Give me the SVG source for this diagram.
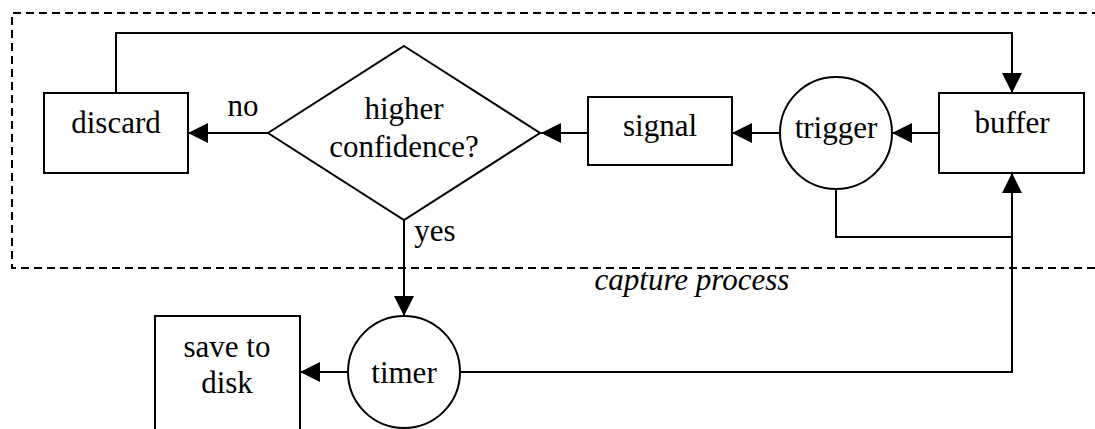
<svg xmlns="http://www.w3.org/2000/svg" width="1095" height="429" viewBox="0 0 1095 429">
<style>
.s{fill:#fff;stroke:#000;stroke-width:2}
.c{fill:none;stroke:#000;stroke-width:2}
.t{font-size:31px;fill:#000;text-anchor:middle}
.d{fill:none;stroke:#000;stroke-width:2;stroke-dasharray:8,5}
</style>
<defs>
<marker id="a" markerUnits="userSpaceOnUse" markerWidth="20" markerHeight="20" refX="20" refY="10" orient="auto">
<path d="M0,0 L20,10 L0,20 z" fill="#000"/>
</marker>
</defs>
<g font-family="Liberation Serif, DejaVu Serif, serif">
<g id="cluster">
<path class="d" d="M1100,13 L12,13 L12,268 L1100,268"/>
<text class="t" x="692" y="290" font-style="italic">capture process</text>
</g>
<g id="connectors">
<path class="c" d="M116,93 L116,33 L1012,33 L1012,93" marker-end="url(#a)"/>
<line class="c" x1="268" y1="133" x2="188" y2="133" marker-end="url(#a)"/>
<line class="c" x1="588" y1="133" x2="541" y2="133" marker-end="url(#a)"/>
<line class="c" x1="780" y1="133" x2="732" y2="133" marker-end="url(#a)"/>
<line class="c" x1="939" y1="133" x2="892" y2="133" marker-end="url(#a)"/>
<path class="c" d="M836,189 L836,237 L1012,237"/>
<path class="c" d="M460,372 L1012,372 L1012,173" marker-end="url(#a)"/>
<line class="c" x1="404" y1="220" x2="404" y2="316" marker-end="url(#a)"/>
<line class="c" x1="348" y1="372" x2="300" y2="372" marker-end="url(#a)"/>
<text class="t" x="243" y="116">no</text>
<text class="t" x="435" y="241">yes</text>
</g>
<g id="discard">
<rect class="s" x="44" y="93" width="144" height="80"/>
<text class="t" x="116" y="133">discard</text>
</g>
<g id="decision">
<polygon class="s" points="404,46 540,133 404,220 268,133"/>
<text class="t" x="404" y="119">higher</text>
<text class="t" x="404" y="157">confidence?</text>
</g>
<g id="signal">
<rect class="s" x="588" y="97" width="144" height="68"/>
<text class="t" x="660" y="136">signal</text>
</g>
<g id="trigger">
<circle class="s" cx="836" cy="133" r="56"/>
<text class="t" x="836" y="138">trigger</text>
</g>
<g id="buffer">
<rect class="s" x="939" y="93" width="145" height="80"/>
<text class="t" x="1012" y="133">buffer</text>
</g>
<g id="timer">
<circle class="s" cx="404" cy="372" r="56"/>
<text class="t" x="404" y="383">timer</text>
</g>
<g id="save">
<rect class="s" x="155" y="316" width="145" height="114"/>
<text class="t" x="227" y="357">save to</text>
<text class="t" x="227" y="393">disk</text>
</g>
</g>
</svg>
